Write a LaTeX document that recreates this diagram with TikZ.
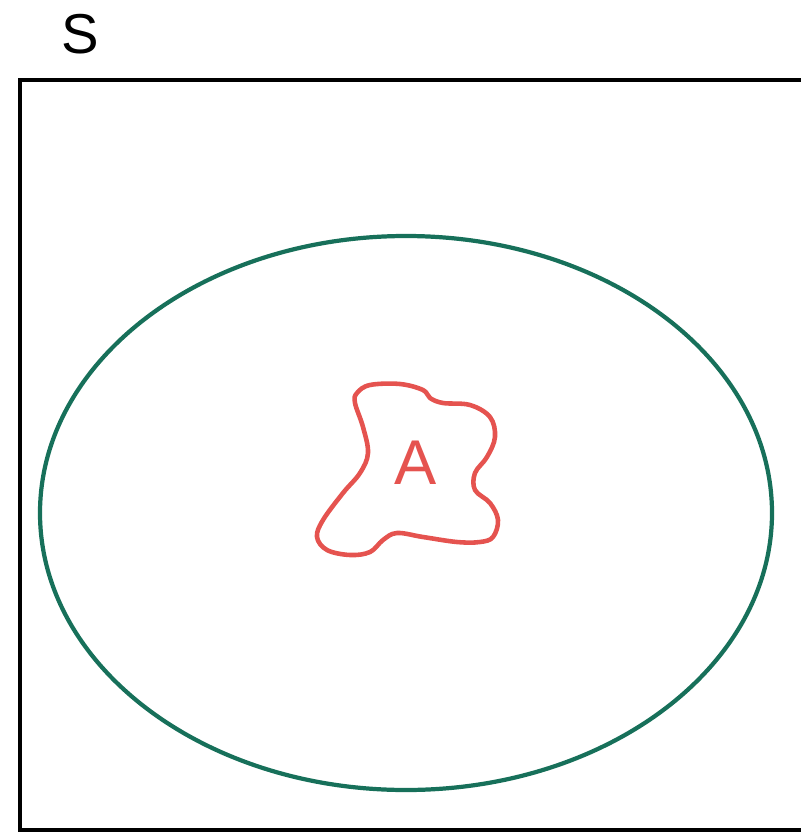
\documentclass[tikz,border=0pt]{standalone}
\usepackage{fontspec}
\setmainfont{Liberation Sans}
\usetikzlibrary{positioning}
\definecolor{setgreen}{HTML}{17705A}
\definecolor{setred}{HTML}{E5534F}
\tikzset{
  frame/.style={draw=black,line width=2.8pt},
  outer/.style={draw=setgreen,line width=2.4pt},
  blob/.style={draw=setred,line width=2.6pt,line join=round},
  setlabel/.style={font=\fontsize{32}{32}\selectfont,inner sep=0pt},
  every node/.style={font=\sffamily\footnotesize}
}
\begin{document}
\begin{tikzpicture}[x=0.02cm,y=-0.02cm]
\useasboundingbox (0,0) rectangle (801,832);
\clip (0,0) rectangle (801,832);
% universe
\draw[frame] (20,80) rectangle (840,830);
\node[setlabel] (slabel) at (80,34) {S};
% region around A
\draw[outer] (406,513) ellipse [x radius=366,y radius=277];
% the set A
\draw[blob] plot[smooth cycle,tension=0.6] coordinates {
  (357,393) (370,385) (400,384) (423,390) (430,398) (443,403) (470,405)
  (490,417) (495,437) (487,457) (475,473) (475,490) (490,503) (498,520)
  (493,537) (480,542) (457,542) (423,537) (397,533) (383,540) (370,552)
  (350,555) (327,550) (317,537) (323,520) (343,493) (360,473) (368,453)
  (363,427) (355,403)};
\node[setlabel,text=setred,font=\fontsize{36}{36}\selectfont] (alabel) at (416,463) {A};
\end{tikzpicture}
\end{document}
